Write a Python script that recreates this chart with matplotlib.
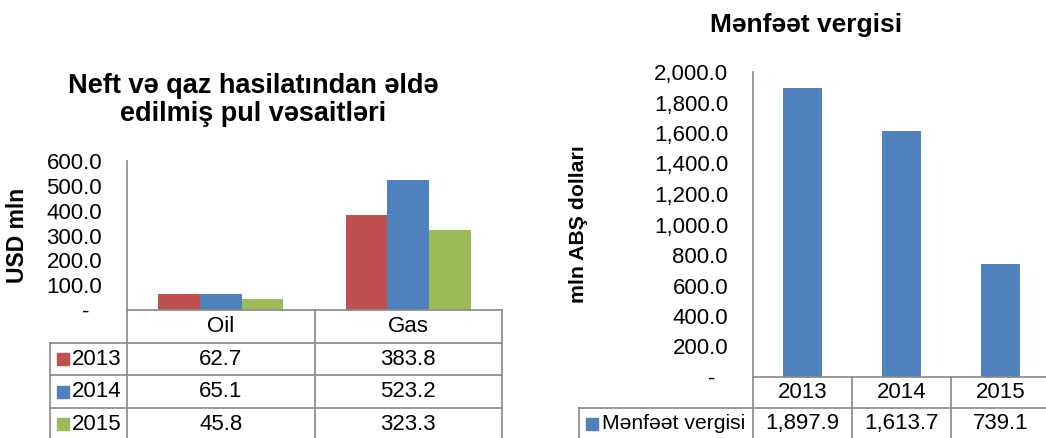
import matplotlib
matplotlib.use("Agg")
import matplotlib.pyplot as plt
from matplotlib.transforms import blended_transform_factory
from matplotlib.ticker import FuncFormatter

plt.rcParams['font.family'] = ['Liberation Sans', 'DejaVu Sans']

# ---------------- data ----------------
left_title = "Neft və qaz hasilatından əldə\nedilmiş pul vəsaitləri"
left_ylabel = "USD mln"
left_categories = ["Oil", "Gas"]
left_years = ["2013", "2014", "2015"]
left_values = {
    "2013": [62.7, 383.8],
    "2014": [65.1, 523.2],
    "2015": [45.8, 323.3],
}
left_colors = ["#C0504D", "#4F81BD", "#9BBB59"]
left_yticks = [0, 100, 200, 300, 400, 500, 600]

right_title = "Mənfəət vergisi"
right_ylabel = "mln ABŞ dolları"
right_categories = ["2013", "2014", "2015"]
right_series = "Mənfəət vergisi"
right_values = [1897.9, 1613.7, 739.1]
right_color = "#4F81BD"
right_yticks = [0, 200, 400, 600, 800, 1000, 1200, 1400, 1600, 1800, 2000]

# ---------------- layout ----------------
W, H = 1046, 438
GRID = "#888888"
TXT = 16
fig = plt.figure(figsize=(W / 100, H / 100), dpi=100)


def box(x0, y0, x1, y1):
    return [x0 / W, 1 - y1 / H, (x1 - x0) / W, (y1 - y0) / H]


def fmt(v, pos=None):
    if abs(v) < 1e-9:
        return "-  "
    return f"{v:,.1f}"


def style_axis(ax):
    for s in ("top", "right"):
        ax.spines[s].set_visible(False)
    for s in ("left", "bottom"):
        ax.spines[s].set_color(GRID)
        ax.spines[s].set_linewidth(1.2)
    ax.set_xticks([])
    ax.yaxis.set_major_formatter(FuncFormatter(fmt))
    ax.tick_params(axis="y", length=0, pad=18, labelsize=TXT, colors="black")


def draw_table(ax, cats, row_labels, row_colors, rows, rh, label_left, nrows_drawn,
               key_dx, text_dx, numfmt, label_size=TXT):
    tr = blended_transform_factory(ax.transData, ax.transAxes)
    lo = -0.5
    hi = len(cats) - 0.5
    kw = dict(color=GRID, lw=1.2, transform=tr, clip_on=False)
    bottom = -(nrows_drawn + 2) * rh
    # horizontal lines
    for i in range(1, nrows_drawn + 1):
        ax.plot([label_left, hi], [-i * rh, -i * rh], **kw)
    # vertical lines
    ax.plot([lo, lo], [0, bottom], **kw)
    for j in range(len(cats)):
        ax.plot([j + 0.5, j + 0.5], [0, bottom], **kw)
    ax.plot([label_left, label_left], [-rh, bottom], **kw)
    # header
    for j, c in enumerate(cats):
        ax.text(j, -rh / 2, c, ha="center", va="center", fontsize=TXT, transform=tr)
    # rows
    for i, (lab, col, vals) in enumerate(zip(row_labels, row_colors, rows)):
        y = -(i + 1.5) * rh
        ax.plot([label_left + key_dx], [y], marker="s", ms=8, color=col, mec=col,
                transform=tr, clip_on=False, ls="none")
        ax.text(label_left + text_dx, y, lab, ha="left", va="center", fontsize=label_size, transform=tr)
        for j, v in enumerate(vals):
            ax.text(j, y, numfmt(v), ha="center", va="center", fontsize=TXT, transform=tr)


# ---------------- left chart ----------------
axL = fig.add_axes(box(127, 161, 502, 310))
n = len(left_years)
bw = 0.223
for k, yr in enumerate(left_years):
    xs = [i + (k - (n - 1) / 2) * bw for i in range(len(left_categories))]
    axL.bar(xs, left_values[yr], width=bw, color=left_colors[k], linewidth=0)
axL.set_xlim(-0.5, len(left_categories) - 0.5)
axL.set_ylim(0, 600)
axL.set_yticks(left_yticks)
style_axis(axL)
axL.set_ylabel(left_ylabel, fontsize=16.5, fontweight="bold")
axL.yaxis.set_label_coords(-0.262, 0.5)
catpx = 375 / len(left_categories)
draw_table(axL, left_categories, left_years, left_colors,
           [left_values[y] for y in left_years],
           rh=32.7 / 149, label_left=-0.5 - 77 / catpx, nrows_drawn=3,
           key_dx=12.5 / catpx, text_dx=22 / catpx, numfmt=lambda v: f"{v:,.1f}")
fig.text(253 / W, 1 - 100 / H, left_title, ha="center", va="center",
         fontsize=19.5, fontweight="bold", linespacing=1.1)

# ---------------- right chart ----------------
axR = fig.add_axes(box(753, 72, 1050, 377))
axR.bar(range(len(right_categories)), right_values, width=0.4, color=right_color, linewidth=0)
axR.set_xlim(-0.5, len(right_categories) - 0.5)
axR.set_ylim(0, 2000)
axR.set_yticks(right_yticks)
style_axis(axR)
axR.set_ylabel(right_ylabel, fontsize=15.3, fontweight="bold")
axR.yaxis.set_label_coords(-0.556, 0.5)
catpxR = 297 / len(right_categories)
draw_table(axR, right_categories, [right_series], [right_color], [right_values],
           rh=31 / 305, label_left=-0.5 - 174 / catpxR, nrows_drawn=1,
           key_dx=12.5 / catpxR, text_dx=23 / catpxR, numfmt=lambda v: f"{v:,.1f}",
           label_size=15.2)
fig.text(806 / W, 1 - 25 / H, right_title, ha="center", va="center",
         fontsize=19, fontweight="bold")

fig.savefig("out.png", dpi=100)
